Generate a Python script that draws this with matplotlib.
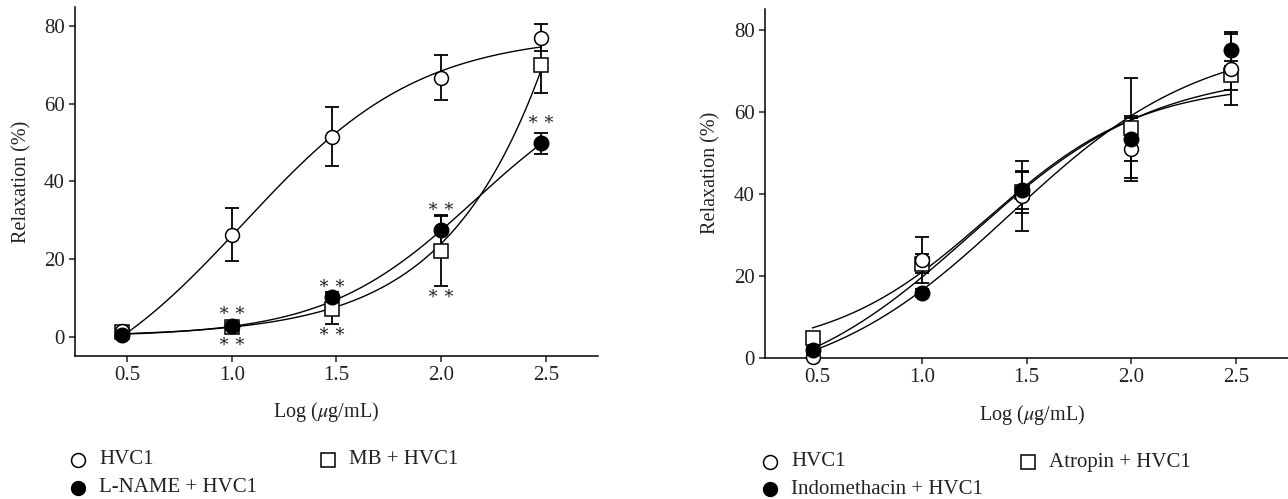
import numpy as np
import matplotlib.pyplot as plt
from matplotlib.lines import Line2D

plt.rcParams['font.family'] = ['Liberation Serif', 'DejaVu Serif']
plt.rcParams['mathtext.fontset'] = 'stix'

# log10 of 3, 10, 30, 100, 300 ug/mL
logc = [0.477, 1.0, 1.477, 2.0, 2.477]

# left panel
hvc_a = [1.5, 26.3, 51.5, 66.8, 77.1]
hvc_a_err = [1.0, 6.8, 7.6, 5.7, 3.5]
mb = [1.2, 2.5, 7.2, 22.2, 70.0]
mb_err = [0.8, 1.0, 4.0, 9.2, 7.3]
lname = [0.3, 2.7, 10.1, 27.4, 49.8]
lname_err = [0.5, 0.8, 1.5, 3.8, 2.6]
# fitted curves: bottom, top, logEC50, hill
hvc_a_fit = [-20, 78, 1.052, 1.022]
mb_fit = [0, 1000, 3.61, 1.0]
lname_fit = [0, 70, 2.158, 1.215]
star_x = [1.0, 1.0, 1.477, 1.477, 2.0, 2.0, 2.477]
star_y = [6.5, -1.6, 13.4, 1.0, 33.3, 10.8, 55.8]

# right panel
hvc_b = [0.3, 23.8, 39.4, 50.8, 70.4]
hvc_b_err = [0.5, 5.6, 8.5, 7.7, 8.9]
atro = [4.9, 23.0, 40.5, 56.0, 68.8]
atro_err = [0.8, 2.4, 5.1, 12.2, 3.5]
indo = [2.0, 15.8, 40.8, 53.4, 75.0]
indo_err = [0.6, 1.0, 4.4, 5.5, 3.8]
hvc_b_fit = [-10, 70, 1.233, 0.982]
atro_fit = [1, 67, 1.312, 1.166]
indo_fit = [-8, 78, 1.422, 0.947]


def hill(x, p):
    b, t, c, h = p
    return b + (t - b) / (1 + 10 ** ((c - x) * h))


fig = plt.figure(figsize=(12.88, 4.99), dpi=100)
axl = fig.add_axes([0.0582, 0.2866, 0.4061, 0.6994])
axr = fig.add_axes([0.594, 0.2826, 0.4061, 0.6994])

xs = np.linspace(logc[0], logc[-1], 200)
ms = 10
ebkw = dict(fmt='none', ecolor='black', elinewidth=1.3, capsize=5, capthick=1.3, zorder=2)
opn = dict(marker='o', ls='none', mfc='white', mec='black', mew=1.1, ms=ms, zorder=4, clip_on=False)
sq = dict(marker='s', ls='none', mfc='white', mec='black', mew=1.1, ms=ms - 0.5, zorder=3, clip_on=False)
fil = dict(marker='o', ls='none', mfc='black', mec='black', ms=ms + 0.5, zorder=5, clip_on=False)

for y, e in [(hvc_a, hvc_a_err), (mb, mb_err), (lname, lname_err)]:
    axl.errorbar(logc, y, yerr=e, **ebkw)
for p in [hvc_a_fit, mb_fit, lname_fit]:
    axl.plot(xs, hill(xs, p), color='black', lw=1.0, zorder=2)
axl.plot(logc, mb, **sq)
axl.plot(logc, hvc_a, **opn)
axl.plot(logc, lname, **fil)
for sx, sy in zip(star_x, star_y):
    axl.text(sx, sy, '\u2217\u2009\u2217', ha='center', va='center', fontsize=13, color='#222222')

for y, e in [(hvc_b, hvc_b_err), (atro, atro_err), (indo, indo_err)]:
    axr.errorbar(logc, y, yerr=e, **ebkw)
for p in [hvc_b_fit, atro_fit, indo_fit]:
    axr.plot(xs, hill(xs, p), color='black', lw=1.0, zorder=2)
axr.plot(logc, atro, **sq)
axr.plot(logc, hvc_b, **opn)
axr.plot(logc, indo, **fil)

axl.set_ylim(-5, 85)
axr.set_ylim(0, 85)
for ax in [axl, axr]:
    ax.set_xlim(0.25, 2.75)
    ax.set_xticks([0.5, 1.0, 1.5, 2.0, 2.5])
    ax.set_xticklabels(['0.5', '1.0', '1.5', '2.0', '2.5'])
    ax.set_yticks([0, 20, 40, 60, 80])
    ax.spines['top'].set_visible(False)
    ax.spines['right'].set_visible(False)
    for s in ['left', 'bottom']:
        ax.spines[s].set_linewidth(1.1)
    ax.tick_params(direction='out', length=4, width=1.1, labelsize=15, colors='#222222')
    ax.set_ylabel('Relaxation (%)', fontsize=14.5, color='#222222')
    ax.set_xlabel('Log ($\\mu$g/mL)', fontsize=14.5, color='#222222')

axl.yaxis.set_label_coords(-0.084, 0.5)
axr.yaxis.set_label_coords(-0.086, 0.53)
axl.xaxis.set_label_coords(0.48, -0.126)
axr.xaxis.set_label_coords(0.51, -0.129)

W, H = 1288, 499


def legend_item(px, py, style, label):
    fig.add_artist(Line2D([px / W], [1 - py / H], transform=fig.transFigure, **style))
    fig.text((px + 21) / W, 1 - py / H, label, fontsize=15, va='center', ha='left', color='#222222')


lg_o = dict(marker='o', ls='none', mfc='white', mec='black', mew=1.1, ms=10)
lg_s = dict(marker='s', ls='none', mfc='white', mec='black', mew=1.1, ms=10)
lg_f = dict(marker='o', ls='none', mfc='black', mec='black', ms=10)

legend_item(78, 460, lg_o, 'HVC1')
legend_item(328, 460, lg_s, 'MB + HVC1')
legend_item(78, 488, lg_f, 'L-NAME + HVC1')
legend_item(770, 462, lg_o, 'HVC1')
legend_item(1028, 462, lg_s, 'Atropin + HVC1')
legend_item(770, 489, lg_f, 'Indomethacin + HVC1')

plt.savefig('out.png', dpi=100)
